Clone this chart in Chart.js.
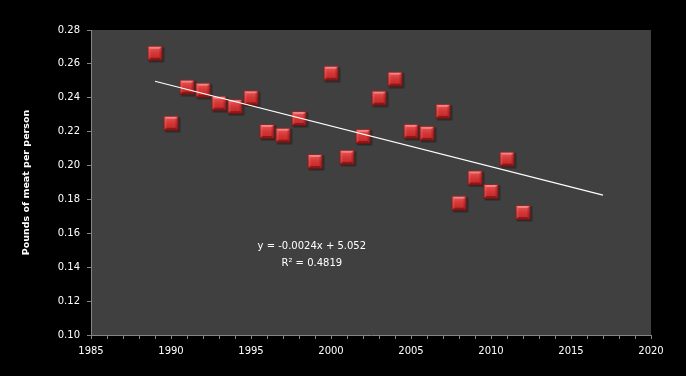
<!DOCTYPE html>
<html>
<head>
<meta charset="utf-8">
<script src="https://cdn.jsdelivr.net/npm/chart.js@4"></script>
<style>
    html, body { margin: 0; padding: 0; background: #000; }
    #wrap { width: 686px; height: 376px; }
</style>
</head>
<body>
<div id="wrap"><canvas id="meatChart"></canvas></div>
<script>
const years = [1989, 1990, 1991, 1992, 1993, 1994, 1995, 1996, 1997, 1998, 1999, 2000,
    2001, 2002, 2003, 2004, 2005, 2006, 2007, 2008, 2009, 2010, 2011, 2012];
const poundsPerPerson = [0.2663, 0.2250, 0.2463, 0.2445, 0.2368, 0.2348, 0.2400, 0.2201,
    0.2179, 0.2278, 0.2024, 0.2545, 0.2049, 0.2172, 0.2398, 0.2510, 0.2202, 0.2190,
    0.2320, 0.1778, 0.1927, 0.1847, 0.2038, 0.1723];
const trendRange = [1989, 2017];
const equationLines = ['y = -0.0024x + 5.052', 'R\u00b2 = 0.4819'];
const equationAnchor = { x: 1998.8, y: 0.1525 };
const yTitle = 'Pounds of meat per person';

(function () {
    // least squares fit, drawn as Excel's linear trendline (forecast to 2017)
    function linearFit(xs, ys) {
        const n = xs.length;
        const mx = xs.reduce((a, b) => a + b, 0) / n;
        const my = ys.reduce((a, b) => a + b, 0) / n;
        let sxy = 0, sxx = 0;
        xs.forEach((x, i) => {
            sxy += (x - mx) * (ys[i] - my);
            sxx += (x - mx) * (x - mx);
        });
        const slope = sxy / sxx;
        return { slope, intercept: my - slope * mx };
    }

    function makeMarker() {
        const s = 15;
        const o = 2; // room for the shadow on every side so the square stays centred
        const c = document.createElement('canvas');
        c.width = s + o * 2;
        c.height = s + o * 2;
        const g = c.getContext('2d');
        g.translate(o, o);

        // soft shadow
        g.fillStyle = 'rgba(0, 0, 0, 0.35)';
        g.fillRect(1.5, 1.5, s, s);

        const grad = g.createLinearGradient(0, 0, 0, s);
        grad.addColorStop(0, '#ea5c5c');
        grad.addColorStop(0.5, '#d63636');
        grad.addColorStop(1, '#bc2828');
        g.fillStyle = grad;
        g.fillRect(0, 0, s, s);

        const b = 3;
        // top bevel
        g.fillStyle = 'rgba(255, 190, 190, 0.45)';
        g.beginPath();
        g.moveTo(0, 0); g.lineTo(s, 0); g.lineTo(s - b, b); g.lineTo(b, b);
        g.closePath(); g.fill();
        // left bevel
        g.fillStyle = 'rgba(255, 150, 150, 0.2)';
        g.beginPath();
        g.moveTo(0, 0); g.lineTo(b, b); g.lineTo(b, s - b); g.lineTo(0, s);
        g.closePath(); g.fill();
        // right bevel
        g.fillStyle = 'rgba(90, 0, 0, 0.25)';
        g.beginPath();
        g.moveTo(s, 0); g.lineTo(s, s); g.lineTo(s - b, s - b); g.lineTo(s - b, b);
        g.closePath(); g.fill();
        // bottom bevel
        g.fillStyle = 'rgba(80, 0, 0, 0.45)';
        g.beginPath();
        g.moveTo(0, s); g.lineTo(b, s - b); g.lineTo(s - b, s - b); g.lineTo(s, s);
        g.closePath(); g.fill();

        g.strokeStyle = 'rgba(110, 20, 20, 0.8)';
        g.lineWidth = 1;
        g.strokeRect(0.5, 0.5, s - 1, s - 1);
        return c;
    }

    const fit = linearFit(years, poundsPerPerson);
    const trendPoints = trendRange.map((x) => ({ x, y: fit.intercept + fit.slope * x }));
    const points = years.map((x, i) => ({ x, y: poundsPerPerson[i] }));

    const backdrop = {
        id: 'backdrop',
        beforeDraw(chart) {
            const { ctx, chartArea: a } = chart;
            ctx.save();
            ctx.fillStyle = '#000000';
            ctx.fillRect(0, 0, chart.width, chart.height);
            ctx.fillStyle = '#404040';
            ctx.fillRect(a.left, a.top, a.right - a.left, a.bottom - a.top);
            ctx.restore();
        },
        afterDraw(chart) {
            const { ctx, scales } = chart;
            const px = scales.x.getPixelForValue(equationAnchor.x);
            const py = scales.y.getPixelForValue(equationAnchor.y);
            ctx.save();
            ctx.fillStyle = '#ffffff';
            ctx.font = '10px "DejaVu Sans"';
            ctx.textAlign = 'center';
            ctx.textBaseline = 'middle';
            ctx.fillText(equationLines[0], px, py);
            ctx.fillText(equationLines[1], px, py + 17);
            ctx.restore();
        },
    };

    const axisFont = { family: 'DejaVu Sans', size: 10 };

    new Chart(document.getElementById('meatChart'), {
        type: 'scatter',
        data: {
            datasets: [
                {
                    label: 'Trend',
                    type: 'line',
                    data: trendPoints,
                    borderColor: '#ffffff',
                    borderWidth: 1.2,
                    pointRadius: 0,
                    order: 0,
                },
                {
                    label: 'Pounds of meat per person',
                    data: points,
                    pointStyle: makeMarker(),
                    order: 1,
                },
            ],
        },
        options: {
            responsive: true,
            maintainAspectRatio: false,
            animation: false,
            layout: { padding: { top: 30, right: 35, left: 0, bottom: 0 } },
            plugins: {
                legend: { display: false },
                tooltip: { enabled: false },
            },
            scales: {
                x: {
                    type: 'linear',
                    min: 1985,
                    max: 2020,
                    afterFit(scale) { scale.height = 41; },
                    grid: {
                        drawOnChartArea: false,
                        drawTicks: true,
                        tickLength: 4,
                        color: '#868686',
                    },
                    border: { color: '#868686', width: 1 },
                    ticks: {
                        stepSize: 1,
                        autoSkip: false,
                        maxTicksLimit: 100,
                        maxRotation: 0,
                        padding: 6,
                        color: '#ffffff',
                        font: axisFont,
                        callback: (v) => (v % 5 === 0 ? String(v) : ''),
                    },
                },
                y: {
                    min: 0.1,
                    max: 0.28,
                    afterFit(scale) { scale.width = 91; },
                    grid: {
                        drawOnChartArea: false,
                        drawTicks: true,
                        tickLength: 4,
                        color: '#868686',
                    },
                    border: { color: '#868686', width: 1 },
                    title: {
                        display: true,
                        text: yTitle,
                        color: '#ffffff',
                        font: { family: 'DejaVu Sans', size: 9.5, weight: 'bold' },
                        padding: { top: 21, bottom: 0 },
                    },
                    ticks: {
                        stepSize: 0.02,
                        padding: 7,
                        color: '#ffffff',
                        font: axisFont,
                        callback: (v) => v.toFixed(2),
                    },
                },
            },
        },
        plugins: [backdrop],
    });
})();
</script>
</body>
</html>
